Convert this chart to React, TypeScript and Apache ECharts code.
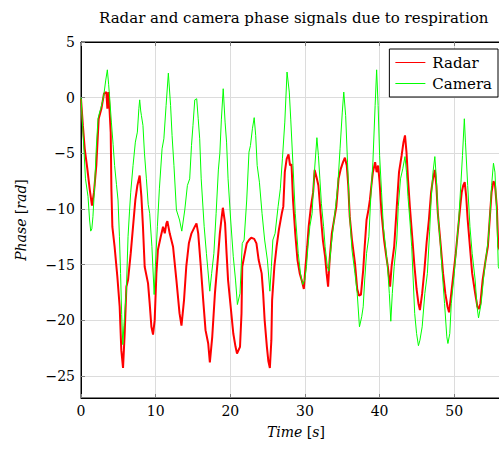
import React, { useEffect, useRef } from "react";
import * as echarts from "echarts";

const titleText = "Radar and camera phase signals due to respiration";
const xTicks = [0, 10, 20, 30, 40, 50];
const yTicks = [-25, -20, -15, -10, -5, 0, 5];

const radarTime = [0, 0.25, 0.5, 0.85, 1.16, 1.47, 1.74, 2.05, 2.37, 2.73, 3.08, 3.4, 3.53, 3.7, 3.98, 4.07, 4.2, 4.5, 4.87, 5.18, 5.4, 5.63, 5.85, 6.08, 6.3, 6.66, 6.97, 7.28, 7.55, 7.86, 8.09, 8.3, 8.53, 8.98, 9.2, 9.43, 9.65, 9.87, 10.1, 10.3, 10.68, 10.99, 11.22, 11.44, 11.57, 11.88, 12.33, 12.78, 13.2, 13.46, 13.8, 14.1, 14.45, 14.8, 15.24, 15.47, 15.7, 16.05, 16.37, 16.68, 17.04, 17.26, 17.58, 17.94, 18.39, 18.6, 18.8, 19.0, 19.3, 19.5, 19.7, 20.05, 20.4, 20.7, 20.9, 21.3, 21.5, 21.6, 21.85, 22.2, 22.5, 22.8, 23.2, 23.5, 23.8, 24.2, 24.4, 24.6, 24.9, 25.1, 25.3, 25.5, 25.6, 25.9, 26.2, 26.5, 26.9, 27.1, 27.3, 27.55, 27.8, 28.0, 28.2, 28.4, 28.7, 29.0, 29.3, 29.6, 29.85, 30.07, 30.3, 30.5, 30.8, 31.1, 31.3, 31.6, 31.8, 32.1, 32.4, 32.7, 32.9, 33.1, 33.3, 33.6, 33.9, 34.2, 34.5, 34.8, 35.1, 35.35, 35.6, 35.8, 36.0, 36.3, 36.7, 37.0, 37.25, 37.5, 37.8, 38.0, 38.25, 38.5, 38.7, 38.9, 39.1, 39.4, 39.6, 39.8, 40.0, 40.26, 40.6, 40.9, 41.1, 41.4, 41.6, 41.95, 42.3, 42.6, 42.95, 43.2, 43.4, 43.6, 43.8, 44.05, 44.4, 44.65, 44.95, 45.2, 45.4, 45.7, 46.0, 46.3, 46.6, 46.9, 47.15, 47.4, 47.6, 47.8, 48.2, 48.5, 48.8, 49.1, 49.3, 49.5, 49.9, 50.2, 50.5, 50.8, 51.0, 51.2, 51.4, 51.6, 51.8, 52.1, 52.4, 52.8, 53.1, 53.3, 53.5, 53.8, 54.2, 54.5, 54.8, 55.0, 55.25, 55.45, 55.7, 55.9, 56.1];
const radarPhase = [-0.1, -2.5, -4.6, -6.4, -8.2, -9.7, -8.5, -6.1, -1.9, -1.0, 0.36, 0.5, -1.0, 0.5, -3.1, -8.2, -11.6, -13.4, -16.1, -18.8, -22.7, -24.3, -21.2, -17.0, -16.4, -14.0, -11.6, -9.2, -7.9, -7.0, -8.9, -11.6, -15.2, -16.7, -18.5, -20.6, -21.3, -20.0, -15.8, -13.7, -12.5, -11.6, -12.2, -11.3, -11.1, -12.2, -13.4, -16.4, -19.4, -20.5, -18.2, -15.2, -13.1, -12.2, -11.6, -11.3, -12.2, -15.2, -18.2, -20.9, -22.1, -23.8, -21.5, -17.6, -14.0, -12.2, -11.0, -9.9, -11.3, -14.0, -16.4, -18.8, -21.2, -22.4, -23.0, -22.4, -19.4, -15.2, -14.3, -13.1, -12.8, -12.6, -12.7, -13.1, -14.6, -15.8, -17.6, -20.0, -22.4, -23.7, -24.3, -21.8, -18.2, -15.2, -13.4, -11.9, -10.4, -9.8, -6.7, -5.5, -5.1, -6.1, -6.0, -9.2, -12.2, -14.6, -15.8, -16.5, -17.2, -15.2, -13.4, -11.6, -9.8, -8.5, -6.5, -7.3, -7.9, -10.4, -12.8, -14.3, -15.8, -17.0, -14.6, -12.2, -11.0, -9.8, -7.3, -6.4, -5.8, -5.4, -6.1, -7.9, -10.7, -12.8, -14.9, -17.2, -17.8, -17.7, -15.5, -13.4, -11.0, -10.1, -9.2, -7.9, -6.7, -5.8, -6.7, -6.1, -7.6, -10.4, -12.8, -14.3, -15.2, -17.0, -15.2, -13.4, -9.8, -6.7, -5.2, -4.0, -3.4, -4.9, -7.3, -9.8, -12.8, -15.0, -17.2, -18.5, -19.1, -17.6, -15.5, -13.0, -11.0, -8.5, -7.3, -6.5, -7.9, -10.4, -13.4, -15.8, -17.6, -18.8, -19.3, -18.2, -15.8, -14.0, -11.9, -9.8, -8.5, -7.9, -7.6, -8.9, -11.0, -13.4, -15.8, -17.6, -18.8, -19.0, -18.5, -16.4, -14.6, -13.4, -10.4, -8.5, -7.5, -7.8, -9.8, -13.4, -13.7];

const cameraTime = [0, 0.3, 0.6, 0.94, 1.15, 1.3, 1.45, 1.6, 1.83, 2.05, 2.28, 2.5, 2.7, 2.9, 3.08, 3.3, 3.53, 3.7, 3.84, 4.07, 4.3, 4.5, 4.75, 4.96, 5.15, 5.3, 5.45, 5.6, 5.75, 5.9, 6.08, 6.3, 6.5, 6.66, 6.97, 7.28, 7.55, 7.75, 7.86, 8.0, 8.09, 8.3, 8.5, 8.76, 9.0, 9.2, 9.5, 9.8, 9.96, 10.23, 10.5, 10.86, 11.1, 11.4, 11.7, 12.0, 12.2, 12.45, 12.78, 13.2, 13.5, 13.9, 14.25, 14.56, 14.8, 15.0, 15.24, 15.5, 15.7, 15.9, 16.1, 16.5, 16.8, 17.0, 17.25, 17.5, 17.8, 18.1, 18.4, 18.6, 18.8, 19.05, 19.3, 19.5, 19.7, 20.05, 20.4, 20.7, 20.95, 21.3, 21.6, 21.85, 22.2, 22.5, 22.7, 22.96, 23.2, 23.4, 23.6, 23.9, 24.25, 24.6, 24.97, 25.3, 25.5, 25.7, 26.0, 26.4, 26.7, 26.98, 27.3, 27.6, 27.9, 28.1, 28.4, 28.7, 29.1, 29.4, 29.7, 29.97, 30.2, 30.4, 30.65, 30.96, 31.2, 31.6, 31.8, 32.0, 32.2, 32.5, 32.7, 33.0, 33.2, 33.5, 33.8, 34.1, 34.4, 34.7, 35.0, 35.2, 35.45, 35.7, 36.0, 36.3, 36.7, 37.0, 37.3, 37.6, 37.8, 38.0, 38.25, 38.56, 38.8, 39.1, 39.4, 39.6, 39.8, 40.0, 40.26, 40.5, 40.8, 41.06, 41.3, 41.5, 41.7, 41.95, 42.3, 42.5, 42.8, 43.1, 43.4, 43.6, 43.8, 44.05, 44.3, 44.5, 44.7, 44.95, 45.2, 45.4, 45.7, 46.06, 46.4, 46.7, 46.9, 47.15, 47.4, 47.6, 47.8, 48.1, 48.4, 48.7, 49.0, 49.15, 49.4, 49.6, 50.0, 50.3, 50.6, 50.9, 51.1, 51.35, 51.5, 51.8, 52.1, 52.4, 52.8, 53.05, 53.25, 53.6, 53.9, 54.2, 54.55, 54.8, 55.0, 55.25, 55.45, 55.7, 55.9, 56.1];
const cameraPhase = [0, -3.5, -7.3, -8.9, -11.0, -12.0, -11.8, -10.7, -7.9, -4.5, -1.9, -1.3, -0.85, -0.3, 0.36, 1.5, 2.5, 1.2, 0, -2.2, -4.2, -6.1, -7.8, -9.2, -12.5, -15.8, -19.5, -22.2, -20.5, -19.0, -17.3, -12.5, -10.2, -8.5, -6.1, -4.0, -3.1, -1.0, -0.2, -1.2, -1.6, -2.5, -5.0, -7.3, -9.6, -10.4, -13.4, -17.7, -15.2, -11.6, -8.2, -4.6, -3.7, -0.7, 2.2, -0.7, -3.4, -6.1, -10.1, -11.0, -12.0, -10.1, -7.9, -7.3, -4.3, -2.5, -0.2, -0.1, -1.9, -3.7, -7.3, -11.6, -14.0, -15.5, -17.4, -15.8, -14.0, -10.4, -6.5, -5.0, -2.0, 0.8, -2.2, -4.0, -7.3, -11.0, -14.3, -16.4, -18.6, -17.6, -13.1, -12.8, -9.2, -4.9, -4.3, -2.8, -1.8, -3.4, -6.1, -7.6, -10.4, -12.8, -14.6, -17.4, -15.2, -12.8, -12.2, -9.8, -8.2, -5.5, -2.2, 2.3, 0.5, -2.0, -6.1, -10.4, -14.0, -15.8, -16.8, -16.4, -15.2, -13.4, -11.6, -10.4, -7.3, -3.6, -5.2, -7.3, -9.5, -11.6, -13.4, -15.2, -15.6, -13.4, -11.6, -9.8, -7.9, -4.6, -1.3, 0.5, -1.6, -5.8, -10.7, -13.7, -15.8, -17.6, -20.6, -19.7, -18.8, -16.4, -14.0, -12.5, -9.2, -5.8, -0.7, 2.5, -0.7, -5.2, -8.5, -11.6, -13.4, -15.2, -17.6, -20.1, -17.6, -15.2, -12.8, -9.8, -7.3, -6.4, -5.3, -6.7, -8.9, -11.0, -13.4, -16.4, -19.4, -21.2, -22.3, -21.8, -20.6, -17.6, -15.8, -12.0, -9.2, -6.7, -5.3, -7.3, -10.4, -12.8, -15.8, -18.5, -21.5, -22.1, -21.2, -18.5, -15.8, -13.4, -11.0, -7.6, -5.2, -1.9, -4.0, -7.9, -11.6, -14.0, -16.4, -18.8, -19.8, -18.5, -16.4, -14.6, -12.8, -10.4, -7.9, -5.9, -6.7, -10.4, -15.2, -15.5];

const FONT = "DejaVu Serif";
const W = 522;
const minus = (v: number) => (v < 0 ? "\u2212" + Math.abs(v) : String(v));
const rich = {
  i: { fontFamily: FONT, fontSize: 14, fontStyle: "italic", color: "#000" },
  n: { fontFamily: FONT, fontSize: 14, color: "#000" },
};

export default function App() {
  const ref = useRef<HTMLDivElement>(null);
  useEffect(() => {
    if (!ref.current) return;
    const chart = echarts.init(ref.current, undefined, { renderer: "svg" });
    const radar = radarTime.map((t, i) => [t, radarPhase[i]]);
    const camera = cameraTime.map((t, i) => [t, cameraPhase[i]]);
    const xCommon = {
      type: "value" as const,
      min: 0,
      max: 57.6,
    };
    chart.setOption({
      animation: false,
      backgroundColor: "#fff",
      title: {
        text: titleText,
        left: 94,
        top: 5,
        textStyle: { fontFamily: FONT, fontSize: 15, fontWeight: "normal", color: "#000" },
      },
      legend: {
        orient: "vertical",
        right: W - 498,
        top: 49,
        padding: [6, 6, 6, 6],
        itemGap: 6,
        itemWidth: 30,
        itemHeight: 1,
        icon: "rect",
        itemStyle: { borderWidth: 0, borderColor: "transparent" },
        lineStyle: { width: 1 },
        borderColor: "#000",
        borderWidth: 1,
        backgroundColor: "#fff",
        textStyle: { fontFamily: FONT, fontSize: 15, color: "#000", padding: [0, 0, 0, 2] },
        data: [
          { name: "Radar", itemStyle: { color: "#ff0000", borderWidth: 0 }, lineStyle: { width: 1 } },
          { name: "Camera", itemStyle: { color: "#00ff00", borderWidth: 0 }, lineStyle: { width: 1 } },
        ],
      },
      grid: {
        left: 81,
        top: 42,
        bottom: 52,
        right: W - 511,
        show: true,
        borderColor: "#000",
        borderWidth: 1,
      },
      xAxis: [
        {
          ...xCommon,
          position: "bottom",
          name: "{i|Time} {n|[}{i|s}{n|]}",
          nameLocation: "middle",
          nameGap: 27,
          nameTextStyle: { fontFamily: FONT, fontSize: 14, color: "#000", rich },
          axisLine: { show: true, onZero: false, lineStyle: { color: "#000", width: 1 } },
          axisTick: { show: true, inside: true, length: 4, customValues: xTicks, lineStyle: { color: "#808080" } },
          axisLabel: { fontFamily: FONT, fontSize: 14, color: "#000", margin: 6, customValues: xTicks, formatter: (v: number) => minus(v) },
          splitLine: { show: true, lineStyle: { color: "#dcdcdc", width: 1 } },
        },
        {
          ...xCommon,
          position: "top",
          axisLine: { show: true, onZero: false, lineStyle: { color: "#000", width: 1 } },
          axisTick: { show: true, inside: true, length: 4, customValues: xTicks, lineStyle: { color: "#808080" } },
          axisLabel: { show: false, customValues: xTicks },
          splitLine: { show: false },
        },
      ],
      yAxis: {
        type: "value",
        min: -27,
        max: 5,
        name: "{i|Phase} {n|[}{i|rad}{n|]}",
        nameLocation: "middle",
        nameGap: 53,
        nameTextStyle: { fontFamily: FONT, fontSize: 14, color: "#000", rich },
        axisLine: { show: true, onZero: false, lineStyle: { color: "#000", width: 1 } },
        axisTick: { show: true, inside: true, length: 4, customValues: yTicks, lineStyle: { color: "#808080" } },
        axisLabel: { fontFamily: FONT, fontSize: 14, color: "#000", margin: 6, customValues: yTicks, formatter: (v: number) => minus(v) },
        splitLine: { show: true, lineStyle: { color: "#dcdcdc", width: 1 } },
      },
      series: [
        {
          name: "Radar",
          type: "line",
          xAxisIndex: 0,
          data: radar,
          symbol: "none",
          lineStyle: { color: "#ff0000", width: 2 },
          itemStyle: { color: "#ff0000" },
        },
        {
          name: "Camera",
          type: "line",
          xAxisIndex: 0,
          data: camera,
          symbol: "none",
          lineStyle: { color: "#00ff00", width: 1 },
          itemStyle: { color: "#00ff00" },
        },
      ],
    });
    return () => chart.dispose();
  }, []);
  return (
    <div
      ref={ref}
      style={{ position: "fixed", left: 0, top: 0, width: W, height: 450, background: "#fff" }}
    />
  );
}
